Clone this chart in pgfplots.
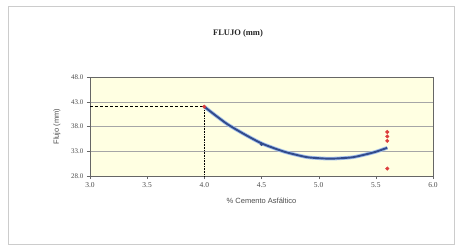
\documentclass[border=0pt]{standalone}
\usepackage{pgfplots}
\pgfplotsset{compat=1.18}
\usepackage{fontspec}
\setmainfont{Liberation Serif}
\newfontfamily\arialf{Liberation Sans}
\definecolor{plotbg}{RGB}{255,255,226}
\definecolor{curveblue}{RGB}{50,75,140}
\definecolor{glowblue}{RGB}{160,190,235}
\definecolor{markred}{RGB}{220,60,60}
\begin{document}
\begin{tikzpicture}
\path[fill=white] (0pt,0pt) rectangle (455pt,247pt);
\draw[gray!40, line width=1pt] (8pt,3pt) rectangle (454pt,240pt);
\node[font=\fontsize{8.5}{9}\selectfont\bfseries, gray!30!black] at (238pt,214pt) {FLUJO (mm)};
\begin{axis}[
  at={(90pt,71pt)}, anchor=south west,
  width=343pt, height=99pt, scale only axis,
  xmin=3, xmax=6, ymin=28, ymax=48,
  xtick={3,3.5,...,6}, ytick={28,33,38,43,48},
  xtick pos=left, ytick pos=left,
  axis background/.style={fill=plotbg},
  ymajorgrids, grid style={gray!70, line width=0.5pt},
  axis line style={gray!80!black, line width=0.6pt},
  tick align=outside, tick style={gray!80!black},
  major tick length=3pt,
  xticklabel style={font=\fontsize{7.5}{8}\selectfont, gray!60!black},
  yticklabel style={font=\fontsize{7}{8}\selectfont, gray!60!black},
  /pgf/number format/.cd, fixed, fixed zerofill, precision=1, assume math mode=true,
  /pgfplots/.cd,
  xlabel={\arialf\% Cemento Asfáltico},
  ylabel={\arialf Flujo (mm)},
  xlabel style={font=\fontsize{7.5}{8}\selectfont, gray!60!black, yshift=-3pt},
  ylabel style={font=\fontsize{7.5}{8}\selectfont, gray!60!black, yshift=4pt},
  clip=false,
]
\addplot[black, densely dashed, line width=0.6pt] coordinates {(3.0,42.0) (4.0,42.0)};
\addplot[black, densely dotted, line width=0.6pt] coordinates {(4.0,42.0) (4.0,28.0)};
\addplot[glowblue, line width=3.6pt, smooth] coordinates {
(4.0,42.0) (4.1,40.2) (4.2,38.5) (4.3,37.1) (4.4,35.8) (4.5,34.6) (4.6,33.7)
(4.7,32.9) (4.8,32.3) (4.9,31.8) (5.0,31.6) (5.1,31.5) (5.2,31.6) (5.3,31.8)
(5.4,32.3) (5.5,32.9) (5.6,33.7)};
\addplot[curveblue, line width=1.9pt, smooth] coordinates {
(4.0,42.0) (4.1,40.2) (4.2,38.5) (4.3,37.1) (4.4,35.8) (4.5,34.6) (4.6,33.7)
(4.7,32.9) (4.8,32.3) (4.9,31.8) (5.0,31.6) (5.1,31.5) (5.2,31.6) (5.3,31.8)
(5.4,32.3) (5.5,32.9) (5.6,33.7)};
\addplot[only marks, mark=*, mark size=1.6pt, curveblue] coordinates {(4.5,34.4)};
\addplot[only marks, mark=*, mark size=1.8pt, markred] coordinates {
(4.0,42.0) (5.6,36.9) (5.6,36.0) (5.6,35.1) (5.6,29.5)};
\end{axis}
\end{tikzpicture}
\end{document}
